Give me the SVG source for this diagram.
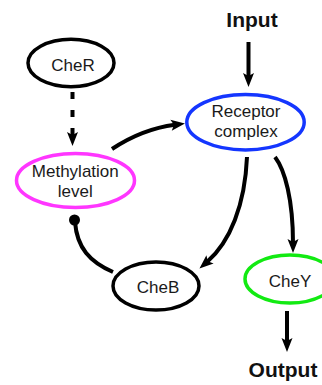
<svg xmlns="http://www.w3.org/2000/svg" width="322" height="385" viewBox="0 0 322 385">
  <style>
    .node { fill: #ffffff; stroke-width: 3.5; }
    .label { font-family: "Liberation Sans", Arial, sans-serif; font-size: 17px; fill: #1a1a1a; text-anchor: middle; }
    .io { font-family: "Liberation Sans", Arial, sans-serif; font-size: 21px; font-weight: bold; fill: #111111; text-anchor: middle; }
    .edge { fill: none; stroke: #000000; stroke-width: 4; }
  </style>
  <defs>
    <marker id="arrow" markerUnits="userSpaceOnUse" markerWidth="15" markerHeight="13" refX="4" refY="6" orient="auto" overflow="visible">
      <path d="M0,0.5 L14,6 L0,11.5 L3,6 z" fill="#000000"/>
    </marker>
  </defs>

  <rect x="0" y="0" width="322" height="385" fill="#ffffff"/>

  <g id="connectors">
    <!-- input into the receptor -->
    <line class="edge" x1="248.5" y1="42" x2="248.5" y2="77" stroke-width="5" marker-end="url(#arrow)"/>
    <!-- CheR methylates (dashed) -->
    <line class="edge" x1="72.5" y1="92" x2="72.5" y2="136" stroke-width="5" stroke-dasharray="7 11" marker-end="url(#arrow)"/>
    <!-- methylation level feeds the receptor -->
    <path class="edge" d="M112,149 Q142,129 175,124.7" marker-end="url(#arrow)"/>
    <!-- receptor activates CheB -->
    <path class="edge" d="M247,157 C245,205 230,242 207,262" marker-end="url(#arrow)"/>
    <!-- receptor activates CheY -->
    <path class="edge" d="M275,157 C285,170 293,200 293,243" marker-end="url(#arrow)"/>
    <!-- CheB demethylates (round-ended) -->
    <path class="edge" d="M113,272 C90,262 77,248 75,222"/>
    <circle cx="74.5" cy="220" r="5.5" fill="#000000"/>
    <!-- output from CheY -->
    <line class="edge" x1="287" y1="311" x2="287" y2="342" stroke-width="5" marker-end="url(#arrow)"/>
  </g>

  <g id="input">
    <text class="io" x="252" y="26.7">Input</text>
  </g>

  <g id="cheR">
    <ellipse class="node" cx="71" cy="63" rx="43" ry="23.7" stroke="#000000"/>
    <text class="label" x="73" y="70.5">CheR</text>
  </g>

  <g id="receptor">
    <ellipse class="node" cx="245.5" cy="122.2" rx="58.7" ry="27.7" stroke="#1436ff"/>
    <text class="label" x="246" y="116.7">Receptor</text>
    <text class="label" x="246" y="137.3">complex</text>
  </g>

  <g id="methylation">
    <ellipse class="node" cx="75.5" cy="180.5" rx="59" ry="27" stroke="#ff36ff"/>
    <text class="label" x="75.3" y="176.7">Methylation</text>
    <text class="label" x="75.3" y="197.3">level</text>
  </g>

  <g id="cheB">
    <ellipse class="node" cx="156" cy="286" rx="43" ry="24" stroke="#000000"/>
    <text class="label" x="158" y="292.5">CheB</text>
  </g>

  <g id="cheY">
    <ellipse class="node" cx="290" cy="279" rx="45" ry="24" stroke="#12ea12"/>
    <text class="label" x="290" y="287">CheY</text>
  </g>

  <g id="output">
    <text class="io" x="283" y="376.7">Output</text>
  </g>
</svg>
